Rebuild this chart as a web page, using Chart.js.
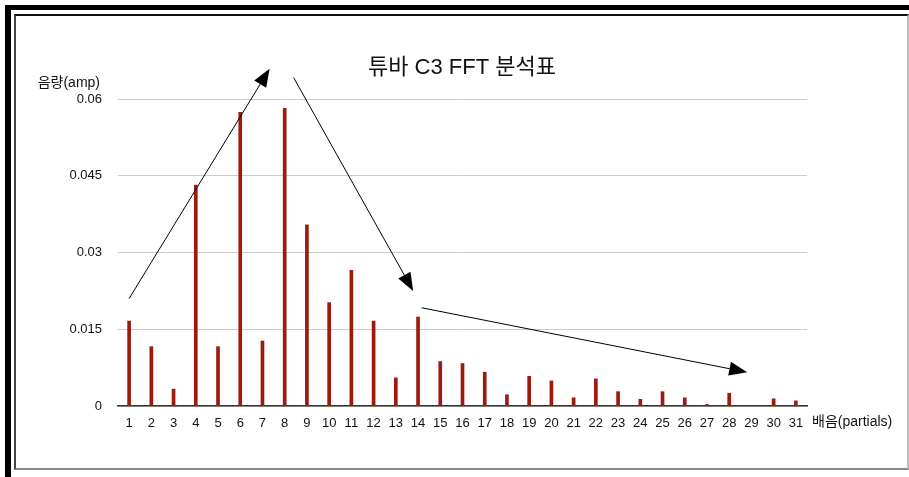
<!DOCTYPE html>
<html>
<head>
<meta charset="utf-8">
<title>튜바 C3 FFT 분석표</title>
<script src="https://cdn.jsdelivr.net/npm/chart.js@4/dist/chart.umd.min.js"></script>
<style>
  html, body { margin: 0; padding: 0; background: #fff; }
  #wrap { position: relative; width: 909px; height: 477px; overflow: hidden; }
  #outer {
    position: absolute; left: 5px; top: 5px; width: 920px; height: 468px;
    border-top: 5px solid #000; border-left: 6px solid #000; border-bottom: 5px solid #000;
  }
  #inner {
    position: absolute; left: 14px; top: 14px; width: 891px; height: 452px;
    border-top: 2px solid #111; border-left: 2px solid #444;
    border-bottom: 2px solid #888; border-right: 2px solid #bbb;
  }
  canvas { position: absolute; left: 0; top: 0; }
</style>
</head>
<body>
<div id="wrap">
  <div id="outer"></div>
  <div id="inner"></div>
  <canvas id="chart_fft"></canvas>
</div>
<script>
const FONT = "'Liberation Sans', 'Noto Sans CJK KR', sans-serif";

const chartTitle = "튜바 C3 FFT 분석표";
const yTitle = "음량(amp)";
const xTitle = "배음(partials)";

// partial numbers 1..31
const partials = ["1","2","3","4","5","6","7","8","9","10","11","12","13","14","15","16",
                  "17","18","19","20","21","22","23","24","25","26","27","28","29","30","31"];
// amplitude of each partial
const amps = [0.0166, 0.0116, 0.0033, 0.0432, 0.0116, 0.0574, 0.0127, 0.0582, 0.0354, 0.0202,
              0.0265, 0.0166, 0.0055, 0.0174, 0.0087, 0.0083, 0.0066, 0.0022, 0.0058, 0.0049,
              0.0016, 0.0053, 0.0028, 0.0013, 0.0028, 0.0016, 0.0003, 0.0025, 0, 0.0014, 0.0010];
const yTicks = [0, 0.015, 0.03, 0.045, 0.06];

// trend arrows, in (partial index, amp) units
const arrows = [
    {from: [0.0, 0.0210], to: [6.32, 0.0659]},
    {from: [7.40, 0.0642], to: [12.78, 0.0225]},
    {from: [13.16, 0.0192], to: [27.81, 0.0066]}
];

const extras = {
    id: "extras",
    afterDraw(chart) {
        const ctx = chart.ctx;
        const xs = chart.scales.x, ys = chart.scales.y;
        ctx.save();
        ctx.fillStyle = "#111";
        ctx.textBaseline = "middle";

        ctx.font = "22px " + FONT;
        ctx.textAlign = "center";
        ctx.fillText(chartTitle, 462, 68);

        ctx.font = "14px " + FONT;
        ctx.textAlign = "right";
        ctx.fillText(yTitle, 100, 83);
        ctx.textAlign = "left";
        ctx.fillText(xTitle, 812, 422);

        // arrows
        ctx.strokeStyle = "#000";
        ctx.fillStyle = "#000";
        ctx.lineWidth = 1;
        arrows.forEach(a => {
            const x1 = xs.getPixelForValue(a.from[0]), y1 = ys.getPixelForValue(a.from[1]);
            const x2 = xs.getPixelForValue(a.to[0]), y2 = ys.getPixelForValue(a.to[1]);
            const ang = Math.atan2(y2 - y1, x2 - x1);
            const len = 18, half = 7;
            const bx = x2 - len * Math.cos(ang), by = y2 - len * Math.sin(ang);
            ctx.beginPath();
            ctx.moveTo(x1, y1);
            ctx.lineTo(bx, by);
            ctx.stroke();
            ctx.beginPath();
            ctx.moveTo(x2, y2);
            ctx.lineTo(bx + half * Math.sin(ang), by - half * Math.cos(ang));
            ctx.lineTo(bx - half * Math.sin(ang), by + half * Math.cos(ang));
            ctx.closePath();
            ctx.fill();
        });
        ctx.restore();
    }
};

const chart_fft = new Chart("chart_fft", {
    type: "bar",
    data: {
        labels: partials,
        datasets: [{
            data: amps,
            backgroundColor: "#9e1a0c",
            barThickness: 3
        }]
    },
    options: {
        responsive: true,
        maintainAspectRatio: false,
        animation: false,
        layout: {padding: {left: 0, right: 102, top: 99, bottom: 0}},
        plugins: {
            legend: {display: false},
            tooltip: {enabled: false}
        },
        scales: {
            x: {
                grid: {display: false},
                border: {color: "#333", width: 1.5},
                ticks: {
                    autoSkip: false, maxRotation: 0, padding: 2,
                    color: "#111", font: {family: FONT, size: 13}
                },
                afterFit(s) { s.height = 71; }
            },
            y: {
                min: 0, max: 0.06,
                afterBuildTicks(s) { s.ticks = yTicks.map(v => ({value: v})); },
                grid: {color: "#cccccc", tickLength: 0},
                border: {display: false},
                ticks: {
                    padding: 16, color: "#111", font: {family: FONT, size: 13},
                    callback: v => String(+v.toFixed(3))
                },
                afterFit(s) { s.width = 118; }
            }
        }
    },
    plugins: [extras]
});
</script>
</body>
</html>
